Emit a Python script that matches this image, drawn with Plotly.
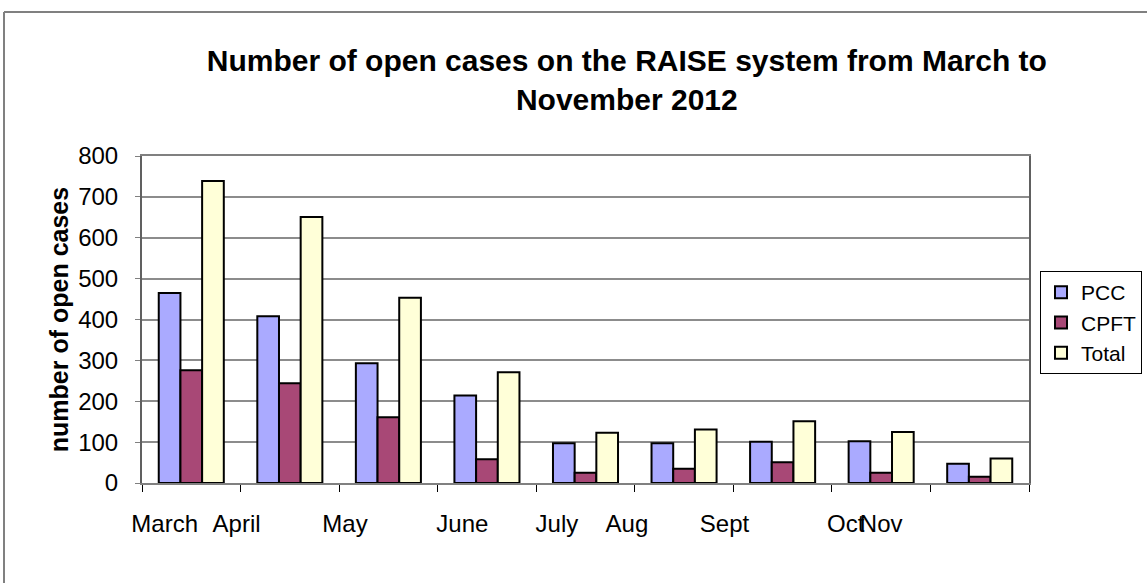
import plotly.graph_objects as go

# Data
groups = list(range(9))
pcc = [465, 408, 293, 214, 97, 97, 101, 102, 47]
cpft = [276, 244, 161, 58, 25, 35, 51, 25, 15]
total = [739, 651, 453, 271, 123, 131, 151, 125, 60]

# Month labels (as misplaced in the original chart) and their axis positions
months = ["March", "April", "May", "June", "July", "Aug", "Sept", "Oct", "Nov"]
label_pos = [-0.27, 0.46, 1.56, 2.75, 3.71, 4.42, 5.41, 6.64, 7.0]

FONT = "Liberation Sans, Arial, sans-serif"

series = [
    ("PCC", pcc, "#aaaaff"),
    ("CPFT", cpft, "#a84876"),
    ("Total", total, "#ffffd8"),
]

fig = go.Figure()
for name, vals, col in series:
    fig.add_trace(go.Bar(
        x=groups, y=vals, name=name,
        marker=dict(color=col, line=dict(color="black", width=2)),
    ))

boundaries = [g - 0.5 for g in groups] + [groups[-1] + 0.5]

fig.update_layout(
    width=1147, height=583,
    margin=dict(l=142, r=118, t=156, b=100, autoexpand=False),
    paper_bgcolor="white", plot_bgcolor="white",
    barmode="group", bargap=0.34, bargroupgap=0,
    font=dict(family=FONT, color="black", size=24),
    title=dict(
        text="<b>Number of open cases on the RAISE system from March to<br>November 2012</b>",
        x=0.5465, xanchor="center", y=0.878, yanchor="middle",
        font=dict(family=FONT, size=30, color="black"),
    ),
    showlegend=True,
    legend=dict(
        x=(1040 - 142) / 887, xanchor="left", y=0.648, yanchor="top",
        bordercolor="black", borderwidth=1, bgcolor="white",
        font=dict(family=FONT, size=21, color="black"),
        tracegroupgap=0, itemwidth=30,
    ),
    xaxis=dict(
        range=[-0.5, 8.5],
        tickmode="array", tickvals=label_pos, ticktext=months,
        ticks="", ticklabelstandoff=18, tickangle=0,
        tickfont=dict(family=FONT, size=24, color="black"),
        showgrid=False, zeroline=False,
        showline=True, linecolor="#808080", linewidth=2, mirror=True,
        minor=dict(tickmode="array", tickvals=boundaries, ticks="outside",
                   ticklen=7, tickcolor="black", tickwidth=1, showgrid=False),
    ),
    yaxis=dict(
        range=[0, 800], tickmode="linear", tick0=0, dtick=100,
        ticks="outside", ticklen=5, tickcolor="#808080",
        ticklabelstandoff=12,
        tickfont=dict(family=FONT, size=24, color="black"),
        showgrid=True, gridcolor="#8c8c8c", gridwidth=1.5,
        zeroline=False,
        showline=True, linecolor="#606060", linewidth=2, mirror=True,
        title=dict(text="<b>number of open cases</b>", standoff=2,
                   font=dict(family=FONT, size=25, color="black")),
    ),
    shapes=[
        dict(type="line", xref="paper", yref="paper",
             x0=(4 - 142) / 887, x1=1.2, y0=(483 - 12) / 327, y1=(483 - 12) / 327,
             line=dict(color="#808080", width=2)),
        dict(type="line", xref="paper", yref="paper",
             x0=(4 - 142) / 887, x1=(4 - 142) / 887, y0=(483 - 12) / 327, y1=-0.5,
             line=dict(color="#808080", width=2)),
    ],
)

fig.write_html("out.html")
